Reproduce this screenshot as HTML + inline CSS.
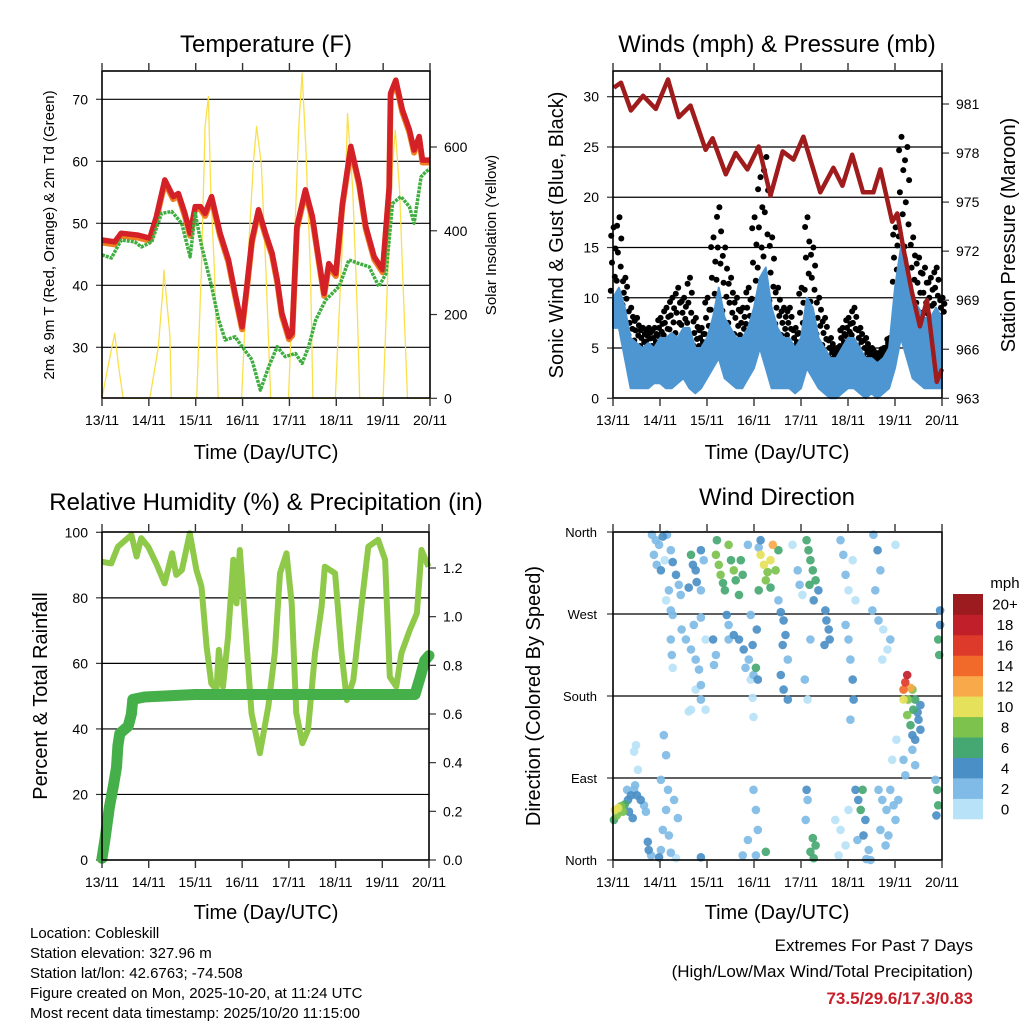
<!DOCTYPE html>
<html><head><meta charset="utf-8"><title>Cobleskill station charts</title>
<style>
html,body{margin:0;padding:0;background:#fff;}
svg{display:block;font-family:"Liberation Sans",Arial,sans-serif;}
</style></head>
<body>
<svg id="fig" width="1024" height="1024" viewBox="0 0 1024 1024" xmlns="http://www.w3.org/2000/svg">
<rect x="0" y="0" width="1024" height="1024" fill="#fff"/>
<!-- titles -->
<text x="266" y="52" font-size="24" text-anchor="middle">Temperature (F)</text>
<text x="777" y="52" font-size="24" text-anchor="middle">Winds (mph) &amp; Pressure (mb)</text>
<text x="266" y="510" font-size="24" text-anchor="middle">Relative Humidity (%) &amp; Precipitation (in)</text>
<text x="777" y="505" font-size="24" text-anchor="middle">Wind Direction</text>
<text x="266" y="459" font-size="20" text-anchor="middle">Time (Day/UTC)</text>
<text x="777" y="459" font-size="20" text-anchor="middle">Time (Day/UTC)</text>
<text x="266" y="919" font-size="20" text-anchor="middle">Time (Day/UTC)</text>
<text x="777" y="919" font-size="20" text-anchor="middle">Time (Day/UTC)</text>
<text transform="translate(54,235) rotate(-90)" font-size="15" text-anchor="middle">2m &amp; 9m T (Red, Orange) &amp; 2m Td (Green)</text>
<text transform="translate(496,235) rotate(-90)" font-size="15" text-anchor="middle">Solar Insolation (Yellow)</text>
<text transform="translate(563,235) rotate(-90)" font-size="20" text-anchor="middle">Sonic Wind &amp; Gust (Blue, Black)</text>
<text transform="translate(1015,235) rotate(-90)" font-size="20" text-anchor="middle">Station Pressure (Maroon)</text>
<text transform="translate(47,696) rotate(-90)" font-size="20" text-anchor="middle">Percent &amp; Total Rainfall</text>
<text transform="translate(540,696) rotate(-90)" font-size="20" text-anchor="middle">Direction (Colored By Speed)</text>
<!-- footer -->
<g font-size="15">
<text x="30" y="938">Location: Cobleskill</text>
<text x="30" y="958">Station elevation: 327.96 m</text>
<text x="30" y="978">Station lat/lon: 42.6763; -74.508</text>
<text x="30" y="998">Figure created on Mon, 2025-10-20, at 11:24 UTC</text>
<text x="30" y="1018">Most recent data timestamp: 2025/10/20 11:15:00</text>
</g>
<text x="973" y="951" font-size="17" text-anchor="end">Extremes For Past 7 Days</text>
<text x="973" y="977" font-size="17" text-anchor="end">(High/Low/Max Wind/Total Precipitation)</text>
<text x="973" y="1004" font-size="17" font-weight="bold" fill="#c8202a" text-anchor="end">73.5/29.6/17.3/0.83</text>
<text x="1005" y="588" font-size="15" text-anchor="middle">mph</text>
<g id="layer"></g>
</svg>
<script>
// ---------- data ----------
const dayLabels = ["13/11","14/11","15/11","16/11","17/11","18/11","19/11","20/11"];
const tempTicks = [30,40,50,60,70];
const solarTicks = [0,200,400,600];
const windTicks = [0,5,10,15,20,25,30];
const presTicks = [963,966,969,972,975,978,981];
const rhTicks = [0,20,40,60,80,100];
const rainTicks = ["0.0","0.2","0.4","0.6","0.8","1.0","1.2"];
const dirLabels = ["North","East","South","West","North"];
const speedLabels = ["0","2","4","6","8","10","12","14","16","18","20+"];
const speedColors = ["#b8e2f7","#7fbbe6","#4a8fc6","#45a872","#7cc24d","#e6e15a","#f8a94a","#f26a2a","#de3a2b","#c1202a","#9b1b1e"];

const tempT = [0,0.27,0.41,0.77,1.02,1.16,1.34,1.52,1.63,1.77,1.88,1.99,2.1,2.2,2.34,2.52,2.7,2.84,2.99,3.09,3.2,3.34,3.49,3.63,3.74,3.84,3.99,4.06,4.16,4.34,4.49,4.63,4.74,4.84,4.99,5.13,5.31,5.49,5.63,5.81,5.99,6.13,6.16,6.27,6.41,6.56,6.66,6.77,6.84,6.99];
const tempV = [47.3,47.0,48.4,48.1,47.6,51.1,57.0,54.3,54.8,51.6,48.4,52.7,52.7,51.6,54.3,48.4,44.1,38.7,33.3,39.8,47.3,52.2,48.4,45.2,40.9,35.5,31.7,32.3,49.5,55.4,51.1,44.1,38.7,43.5,41.9,53.2,62.4,56.5,49.5,44.6,42.5,55.9,71.0,73.1,68.3,65.1,61.8,64.0,60.2,60.2];
const dewT = [0,0.2,0.41,0.7,0.84,1.06,1.27,1.49,1.7,1.88,1.99,2.13,2.34,2.49,2.63,2.84,2.99,3.2,3.38,3.56,3.74,3.91,4.13,4.27,4.41,4.56,4.77,5.06,5.27,5.49,5.7,5.91,6.06,6.2,6.38,6.56,6.66,6.81,6.91,7.0];
const dewV = [44.9,44.4,47.3,47.0,46.2,47.0,51.6,51.9,50.0,44.6,51.6,46.2,39.8,34.4,31.2,31.7,30.1,28.0,23.1,26.9,30.1,28.5,29.0,27.4,30.1,34.4,37.6,39.8,44.1,43.5,43.0,39.8,41.9,53.2,54.3,52.7,50.0,57.5,58.3,58.8];
const solarT = [0,0.1,0.27,0.35,0.45, 1.02,1.2,1.3,1.32,1.45,1.48, 2.02,2.12,2.2,2.27,2.32,2.4,2.48, 2.98,3.1,3.23,3.3,3.4,3.5,3.6, 3.98,4.1,4.2,4.27,4.35,4.45,4.5, 4.98,5.1,5.22,5.24,5.35,5.45,5.5, 6.0,6.1,6.2,6.26,6.35,6.45,6.52,7.0];
const solarV = [0,60,155,80,0, 0,120,260,306,150,0, 0,300,650,720,500,300,0, 0,300,560,649,560,300,0, 0,350,650,776,600,300,0, 0,300,600,680,500,200,0, 0,300,560,640,500,200,0,0];

const presT = [0.02,0.17,0.38,0.64,0.91,1.17,1.40,1.65,1.97,2.12,2.40,2.61,2.86,3.10,3.35,3.61,3.84,4.05,4.41,4.69,4.88,5.09,5.32,5.54,5.69,5.94,6.05,6.17,6.36,6.53,6.68,6.89,7.0];
const presV = [982.0,982.3,980.6,981.5,980.7,982.5,980.2,980.9,978.2,978.9,976.7,978.0,977.0,978.4,975.4,978.1,977.6,979.0,975.6,977.1,976.0,977.9,975.6,975.6,977.0,973.8,974.3,972.3,969.5,967.4,969.0,964.0,964.8];
const windStep = 0.125;
const windHi = [10,11,9,6,5.5,5,5.5,5,6,6,6.5,6,7,7,5,5,6,8,11,8,7,6,6,7,9,12,13,9,7,6,6,5,6,10,9,6,5,4,4,5,6,6,5,4,4,3.5,4,5,11,15,14,10,9,8,8,9,8];
const windLo = [7,7,4,1,1,1,1,1.5,1.5,1,1,1.5,2,1,0.5,1,2,3,4,2,1.5,1,1,2,3,5,3,1,1,1,1,0.5,1,3,2,1,0.5,0,0,0.5,1,1,0.5,0,0.5,0,0.5,1,3,6,4,2,1.5,1,1,1,1];
const gustHi = [17,18,12,9,8,7,7,7,8,9,10,11,10,12,8,7,10,16,19,15,12,10,9,11,18,22,24,16,11,9,9,7,11,18,15,10,8,6,5,7,8,9,7,6,5,4.5,5,6,17,26,25,16,14,13,12,13,10];

const rhT = [0,0.2,0.34,0.63,0.74,0.84,0.99,1.16,1.34,1.5,1.59,1.71,1.88,2.02,2.13,2.24,2.34,2.45,2.5,2.59,2.7,2.81,2.88,2.95,3.06,3.2,3.38,3.56,3.7,3.81,3.95,4.06,4.16,4.29,4.41,4.56,4.7,4.77,4.99,5.13,5.24,5.38,5.56,5.7,5.91,6.06,6.16,6.3,6.41,6.59,6.74,6.84,6.99];
const rhV = [91,90.5,95.6,99.2,92.6,98.2,95.6,90.5,84.4,93.6,87,88.5,99.7,88.5,83.4,65.1,53.9,51.9,64.1,52.9,68.2,91.6,78.3,94.6,73.2,44.8,32.6,46.8,63.1,87.5,93.6,78.3,44.8,35.6,39.7,63.1,77.3,89.5,87.5,63.1,48.8,54.9,78.3,95.6,97.7,91.6,55.9,52.9,63.1,70.2,75.3,94.6,89.5];
const rainT = [0,0.06,0.16,0.24,0.31,0.34,0.38,0.56,0.63,0.66,0.91,1.99,6.7,6.81,6.91,7.0];
const rainV = [0.007,0.08,0.22,0.30,0.38,0.47,0.52,0.55,0.60,0.66,0.67,0.68,0.68,0.75,0.82,0.84];

const dirT = [
0.04,0.11,0.17,0.21,0.08,0.25,0.32,0.38,0.45,0.51,0.59,0.66,0.34,0.42,0.70,0.47,0.30,0.02,
0.45,0.49,0.53,0.74,0.76,0.81,0.98,
0.83,0.91,0.98,1.06,1.15,0.87,0.93,1.02,1.10,1.23,1.27,1.34,1.40,1.44,1.19,1.13,1.23,
1.27,1.46,1.55,1.66,1.76,1.83,1.87,1.76,1.97,1.72,1.87,1.87,1.97,1.66,1.23,1.25,1.27,
1.08,1.13,1.02,1.17,1.13,1.06,1.19,1.02,1.23,1.34,1.38,1.30,
1.66,1.70,1.76,1.78,1.61,1.87,1.93,1.87,
2.19,2.25,2.29,2.34,2.38,2.51,2.57,2.61,2.21,2.46,2.68,2.72,2.76,
2.42,2.46,2.57,2.68,2.78,2.89,2.97,3.06,2.93,2.82,3.04,3.08,2.99,2.46,2.13,2.19,2.15,
1.61,2.97,2.99,2.93,2.99,3.04,3.08,2.87,3.04,3.25,2.76,1.87,3.14,3.10,2.87,
3.14,3.21,3.29,3.35,3.40,3.25,3.35,3.46,3.52,3.10,
3.52,3.57,3.63,3.67,3.61,3.72,3.63,3.57,3.72,
4.12,4.16,4.20,4.25,4.31,4.37,4.18,4.27,4.52,4.54,4.59,4.61,4.50,3.93,3.97,4.03,3.82,
4.25,4.31,4.20,4.27,4.08,4.14,4.20,4.12,4.14,4.10,
4.90,4.95,5.01,5.10,4.84,5.16,4.95,5.01,5.05,5.10,5.12,5.05,
5.16,5.22,5.27,5.31,5.37,5.33,5.44,5.39,5.20,4.73,4.84,4.95,4.80,5.01,
5.54,5.63,5.69,5.58,5.52,5.65,5.75,5.84,5.73,5.90,6.01,
5.65,5.73,5.82,5.90,5.97,5.69,5.80,5.86,6.01,6.07,5.48,5.94,6.03,
6.26,6.22,6.18,6.33,6.18,6.28,6.37,6.43,6.39,6.48,6.54,6.50,6.33,6.37,6.54,6.43,6.26,
6.18,6.22,6.37,6.43,
6.96,6.96,6.92,6.94,6.90,6.92,6.86,6.88];
const dirD = [
55,57,59,53,49,61,66,71,77,71,66,60,53,46,53,82,77,44,
119,126,99,20,11,5,3,
357,351,346,355,357,335,324,318,329,340,327,313,302,291,296,285,274,
269,253,242,231,220,209,192,187,242,258,266,176,165,165,242,225,211,
137,115,88,77,55,33,27,11,8,2,46,66,
335,324,318,305,299,340,329,296,
335,324,313,304,296,329,318,307,351,346,291,329,313,
269,258,247,242,231,220,236,253,269,211,211,198,203,242,242,225,214,
163,178,157,198,77,55,33,22,5,9,5,3,351,343,346,
335,324,316,329,346,307,299,318,340,296,
285,272,263,247,236,220,187,203,176,
351,340,329,318,307,296,302,285,274,263,253,242,236,318,302,291,346,
24,16,9,2,198,176,242,77,66,44,
335,313,296,329,351,285,258,242,220,198,176,154,
77,66,55,77,44,27,11,1,22,44,33,16,5,55,
357,340,318,296,274,263,253,231,220,242,346,
77,66,55,77,60,33,16,27,44,66,0,110,132,
203,195,187,189,176,176,187,176,165,162,170,154,148,137,143,132,159,
110,93,121,104,
274,258,242,225,77,60,88,49];
const dirS = [
10,10,9,9,8,7,4,4,3,4,4,3,5,4,3,2,3,7,
1,1,1,4,4,3,4,
2,3,2,4,3,3,2,4,1,3,4,4,3,3,2,1,2,
2,2,2,3,2,2,2,1,1,3,2,3,1,1,2,2,1,
2,3,2,2,3,2,3,3,2,1,2,3,
6,5,4,5,4,4,3,3,
9,8,9,7,6,7,8,6,6,8,6,6,6,
4,3,4,4,4,3,4,4,3,2,6,4,3,3,4,3,2,
1,1,1,1,2,3,3,3,2,6,2,4,5,3,2,
10,10,9,11,12,8,7,8,6,6,
3,4,4,5,4,3,4,4,4,
7,6,7,6,6,5,7,5,4,4,5,4,4,2,2,1,1,
7,6,7,6,2,1,2,4,3,2,
3,2,1,1,2,1,3,2,3,4,4,2,
4,5,6,6,4,4,3,3,3,1,1,1,1,1,
3,4,2,2,2,2,1,1,1,2,1,
2,2,3,2,3,3,2,2,2,3,2,1,1,
18,16,14,12,10,8,8,7,6,5,5,4,6,4,4,4,8,
2,3,3,2,
4,5,6,6,6,6,3,4];

// ---------- helpers ----------
const NS = "http://www.w3.org/2000/svg";
const layer = document.getElementById("layer");
function mk(tag, attrs, parent){
  const e = document.createElementNS(NS, tag);
  for (const k in attrs) e.setAttribute(k, attrs[k]);
  (parent || layer).appendChild(e);
  return e;
}
function txt(x, y, s, size, anchor){
  const e = mk("text", {x:x, y:y, "font-size":size, "text-anchor":anchor});
  e.textContent = s;
  return e;
}
function xScale(x0, x1){ return t => x0 + t / 7 * (x1 - x0); }
function yScale(y0px, y1px, v0, v1){ return v => y0px + (v - v0) / (v1 - v0) * (y1px - y0px); }

const P1 = {x0:102, x1:430, y0:71, y1:398};
const P2 = {x0:613, x1:942, y0:71, y1:398};
const P3 = {x0:102, x1:429, y0:532, y1:860};
const P4 = {x0:613, x1:942, y0:532, y1:860};

const x1 = xScale(P1.x0, P1.x1), x2 = xScale(P2.x0, P2.x1), x3 = xScale(P3.x0, P3.x1), x4 = xScale(P4.x0, P4.x1);
const yTemp = yScale(347.3, 99.3, 30, 70);
const ySolar = yScale(398.3, 147, 0, 600);
const yWind = yScale(398.3, 96.7, 0, 30);
const yPres = yScale(398.3, 104, 963, 981);
const yRH = yScale(860, 532.3, 0, 100);
const yRain = yScale(860, 568, 0, 1.2);
const yDir = yScale(860, 532, 0, 360);

function frame(P, name){
  const r = mk("rect", {x:P.x0, y:P.y0, width:P.x1-P.x0, height:P.y1-P.y0, fill:"none", stroke:"#000", "stroke-width":1.6});
  
  
  const g = mk("g", {});
  
  
  for (let i = 0; i < dayLabels.length; i++){
    const xs = xScale(P.x0, P.x1)(i);
    mk("line", {x1:xs, x2:xs, y1:P.y1, y2:P.y1+8, stroke:"#333", "stroke-width":1.4}, g);
    mk("line", {x1:xs, x2:xs, y1:P.y0, y2:P.y0-8, stroke:"#333", "stroke-width":1.4}, g);
    const l = txt(xs, P.y1 + 27, dayLabels[i], 14, "middle");
    g.appendChild(l);
  }
}
function hgrid(P, ys, name){
  const g = mk("g", {});
  
  
  ys.forEach(y => { if (y > P.y0 + 1 && y < P.y1 - 1) mk("line", {x1:P.x0, x2:P.x1, y1:y, y2:y, stroke:"#000", "stroke-width":1.2}, g); });
}
function leftLabels(P, vals, yf, name, fmt){
  const g = mk("g", {});
  
  
  vals.forEach(v => {
    const y = yf(v);
    mk("line", {x1:P.x0-6, x2:P.x0, y1:y, y2:y, stroke:"#333", "stroke-width":1.2}, g);
    g.appendChild(txt(P.x0 - 14, y + 5, fmt ? fmt(v) : String(v), 14, "end"));
  });
}
function rightLabels(P, vals, yf, name, fmt){
  const g = mk("g", {});
  
  
  vals.forEach(v => {
    const y = yf(v);
    mk("line", {x1:P.x1, x2:P.x1+7, y1:y, y2:y, stroke:"#333", "stroke-width":1.2}, g);
    g.appendChild(txt(P.x1 + 14, y + 5, fmt ? fmt(v) : String(v), 14, "start"));
  });
}
function pts(T, V, xf, yf){ return T.map((t, i) => xf(t).toFixed(1) + "," + yf(V[i]).toFixed(1)).join(" "); }

// ---------- panel 1: temperature ----------
hgrid(P1, tempTicks.map(yTemp), "temp-gridlines");
leftLabels(P1, tempTicks, yTemp, "temp-y-ticks");
rightLabels(P1, solarTicks, ySolar, "solar-y-ticks");
const solarLine = mk("polyline", {points:pts(solarT, solarV, x1, ySolar), fill:"none", stroke:"#f9e04b", "stroke-width":1.3, "stroke-linejoin":"round"});


const orangeLine = mk("polyline", {points:pts(tempT, tempV.map(v => v - 0.4), x1, yTemp), fill:"none", stroke:"#f07f22", "stroke-width":6, "stroke-linejoin":"round"});


const redLine = mk("polyline", {points:pts(tempT, tempV, x1, yTemp), fill:"none", stroke:"#d42027", "stroke-width":5.5, "stroke-linejoin":"round"});


const dewLine = mk("polyline", {points:pts(dewT, dewV, x1, yTemp), fill:"none", stroke:"#3fae3f", "stroke-width":3.5, "stroke-linejoin":"round", "stroke-dasharray":"3,1"});


frame(P1, "temp");

// ---------- panel 2: winds ----------
hgrid(P2, windTicks.map(yWind), "wind-gridlines");
leftLabels(P2, windTicks, yWind, "wind-y-ticks");
rightLabels(P2, presTicks, yPres, "pressure-y-ticks");
const gustG = mk("g", {});


const fracs = [0.1, 0.3, 0.5, 0.7, 0.88, 1.0];
const offs = [-2.2, 1.8, -1, 2.4, -1.8, 0.6];
for (let i = 0; i < gustHi.length; i++){
  const t = i * windStep;
  for (let k = 0; k < fracs.length; k++){
    const v = windHi[i] + fracs[k] * (gustHi[i] - windHi[i]);
    const c = mk("circle", {cx:(x2(t) + offs[k]).toFixed(1), cy:yWind(v).toFixed(1), r:3, fill:"#000"}, gustG);
    
  }
}
const windT = windHi.map((_, i) => i * windStep);
const bandPts = pts(windT, windHi, x2, yWind) + " " + pts(windT.slice().reverse(), windLo.slice().reverse(), x2, yWind);
const windBand = mk("polygon", {points:bandPts, fill:"#4e96d2", stroke:"#4e96d2", "stroke-width":2, "stroke-linejoin":"round"});


const presLine = mk("polyline", {points:pts(presT, presV, x2, yPres), fill:"none", stroke:"#a01c1c", "stroke-width":4.5, "stroke-linejoin":"round"});


frame(P2, "wind");

// ---------- panel 3: humidity ----------
hgrid(P3, rhTicks.map(yRH), "humidity-gridlines");
leftLabels(P3, rhTicks, yRH, "humidity-y-ticks");
rightLabels(P3, rainTicks.map(Number), yRain, "rain-y-ticks", v => v.toFixed(1));
const rhLine = mk("polyline", {points:pts(rhT, rhV, x3, yRH), fill:"none", stroke:"#8fc94a", "stroke-width":6, "stroke-linejoin":"round"});


const rainLine = mk("polyline", {points:pts(rainT, rainV, x3, yRain), fill:"none", stroke:"#45b04a", "stroke-width":11, "stroke-linejoin":"round", "stroke-linecap":"round"});


frame(P3, "humidity");

// ---------- panel 4: direction ----------
hgrid(P4, [90,180,270].map(yDir), "direction-gridlines");
const dg = mk("g", {});


dirLabels.forEach((s, i) => {
  const y = yDir(i * 90);
  mk("line", {x1:P4.x0-6, x2:P4.x0, y1:y, y2:y, stroke:"#333", "stroke-width":1.2}, dg);
  dg.appendChild(txt(P4.x0 - 16, y + 5, s, 13, "end"));
});
const sg = mk("g", {});


const order = dirS.map((s, i) => i).sort((a, b) => dirS[a] - dirS[b]);
order.forEach(i => {
  const bin = Math.min(10, Math.floor(dirS[i] / 2));
  const c = mk("circle", {cx:x4(dirT[i]).toFixed(1), cy:yDir(dirD[i]).toFixed(1), r:4.3, fill:speedColors[bin], "fill-opacity":0.92}, sg);
  
});
frame(P4, "direction");

// colorbar
const cb = mk("g", {});


const cbTop = 594, cbBot = 819, cbH = (cbBot - cbTop) / speedLabels.length;
for (let i = 0; i < speedLabels.length; i++){
  const y = cbBot - (i + 1) * cbH;
  const r = mk("rect", {x:953, y:y.toFixed(1), width:30, height:(cbH + 0.3).toFixed(1), fill:speedColors[i]}, cb);
  
  cb.appendChild(txt(1005, y + cbH / 2 + 5.5, speedLabels[i], 15, "middle"));
}
</script>
</body></html>
